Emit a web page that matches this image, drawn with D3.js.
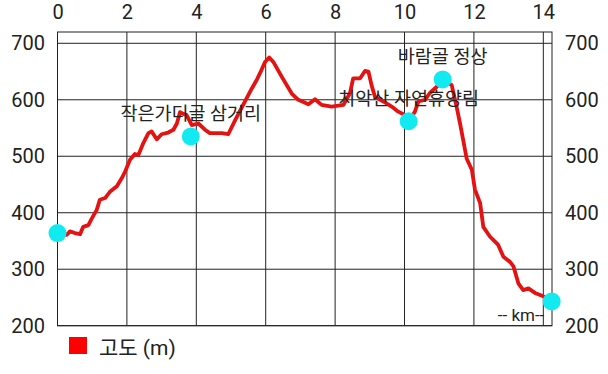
<!DOCTYPE html>
<html>
<head>
<meta charset="utf-8">
<script src="https://cdn.jsdelivr.net/npm/d3@7"></script>
<style>
  body { margin: 0; background: #fff; }
  text { font-family: Roboto, "Noto Sans CJK KR", sans-serif; fill: #222; }
  .grid line { stroke: #222; stroke-width: 1; }
  .axis path { display: none; }
  .axis text { font-size: 20px; }
</style>
</head>
<body>
<div id="graphic"></div>
<script>
const km = [0, 0.27, 0.36, 0.50, 0.65, 0.74, 0.89, 0.99, 1.13, 1.22, 1.37, 1.51, 1.71, 1.85, 1.95,
  2.09, 2.23, 2.33, 2.47, 2.62, 2.71, 2.86, 3.00, 3.19, 3.34, 3.44, 3.53, 3.63, 3.72, 3.87,
  4.06, 4.25, 4.39, 4.59, 4.74, 4.92, 5.12, 5.35, 5.60, 5.74, 5.88, 5.98, 6.10, 6.22, 6.46,
  6.75, 6.94, 7.23, 7.42, 7.61, 7.90, 8.24, 8.43, 8.52, 8.72, 8.86, 8.96, 9.05, 9.15, 9.39,
  9.63, 9.82, 10.01, 10.12, 10.30, 10.40, 10.59, 10.73, 10.93, 11.10, 11.36, 11.50, 11.60,
  11.69, 11.79, 11.94, 12.03, 12.18, 12.27, 12.46, 12.70, 12.85, 13.04, 13.14, 13.28, 13.42,
  13.57, 13.76, 14.00, 14.24];
const elev = [363, 361, 367, 364, 362, 375, 378, 390, 405, 423, 426, 437, 447, 461, 473,
  494, 504, 502, 523, 541, 544, 530, 539, 542, 547, 558, 578, 575, 573, 555,
  558, 547, 541, 541, 541, 539, 564, 591, 620, 635, 653, 667, 675, 667, 641,
  611, 600, 592, 601, 591, 588, 591, 612, 638, 638, 651, 650, 626, 605, 597,
  588, 579, 573, 562, 579, 597, 600, 612, 623, 636, 626, 588, 558,
  529, 496, 476, 441, 417, 375, 358, 343, 322, 313, 305, 275, 263,
  266, 258, 252, 243];

// waypoints
const wpNames = ["", "작은가디골 삼거리", "치악산 자연휴양림", "바람골 정상", ""];
const wpKm = [0, 3.84, 10.12, 11.10, 14.24];
const wpElev = [364, 535, 562, 636, 243];

const xTicks = [0, 2, 4, 6, 8, 10, 12, 14];
const yTicks = [200, 300, 400, 500, 600, 700];

const W = 608, H = 374;
const margin = { top: 32, right: 56, bottom: 48.3, left: 57.5 };
const width = W - margin.left - margin.right,
      height = H - margin.top - margin.bottom;

const svg = d3.select("#graphic").append("svg")
  .attr("width", W)
  .attr("height", H);

const g = svg.append("g")
  .attr("transform", `translate(${margin.left},${margin.top})`);

const x = d3.scaleLinear().domain([0, 14.25]).range([0, width]);
const y = d3.scaleLinear().domain([200, 720]).range([height, 0]);

// grid + frame
const grid = g.append("g").attr("class", "grid");
grid.selectAll(".vx").data(xTicks).enter().append("line")
  .attr("x1", d => x(d)).attr("x2", d => x(d))
  .attr("y1", 0).attr("y2", height);
grid.selectAll(".hy").data(yTicks).enter().append("line")
  .attr("x1", 0).attr("x2", width)
  .attr("y1", d => y(d)).attr("y2", d => y(d));
g.append("rect")
  .attr("width", width).attr("height", height)
  .attr("fill", "none").attr("stroke", "#222").attr("stroke-width", 1);

// axes
g.append("g").attr("class", "axis")
  .call(d3.axisTop(x).tickValues(xTicks).tickSize(0).tickPadding(13).tickFormat(d3.format("d")));
g.append("g").attr("class", "axis")
  .call(d3.axisLeft(y).tickValues(yTicks).tickSize(0).tickPadding(12.5));
g.append("g").attr("class", "axis")
  .attr("transform", `translate(${width},0)`)
  .call(d3.axisRight(y).tickValues(yTicks).tickSize(0).tickPadding(13));
g.selectAll(".axis text").attr("fill", "#222");

// elevation line
const line = d3.line()
  .x((d, i) => x(km[i]))
  .y(d => y(d));

g.append("path")
  .datum(elev)
  .attr("fill", "none")
  .attr("stroke", "#e51212")
  .attr("stroke-width", 3.8)
  .attr("stroke-linejoin", "round")
  .attr("d", line);

// waypoint markers
g.selectAll(".wp").data(wpKm).enter().append("circle")
  .attr("cx", d => x(d))
  .attr("cy", (d, i) => y(wpElev[i]))
  .attr("r", 9)
  .attr("fill", "#11eaf0");

g.selectAll(".wpl").data(wpNames).enter().append("text")
  .attr("x", (d, i) => x(wpKm[i]))
  .attr("y", (d, i) => y(wpElev[i]) - 16)
  .attr("text-anchor", "middle")
  .style("font-size", "18.5px")
  .text(d => d);

// unit label
g.append("text")
  .attr("x", x(14) + 1)
  .attr("y", height - 5)
  .attr("text-anchor", "end")
  .style("font-size", "17px")
  .text("-- km--");

// legend
svg.append("rect")
  .attr("x", 69).attr("y", 337)
  .attr("width", 18).attr("height", 17)
  .attr("fill", "#ff0000");
svg.append("text")
  .attr("x", 99).attr("y", 355)
  .style("font-size", "21px")
  .text("고도 (m)");
</script>
</body>
</html>
